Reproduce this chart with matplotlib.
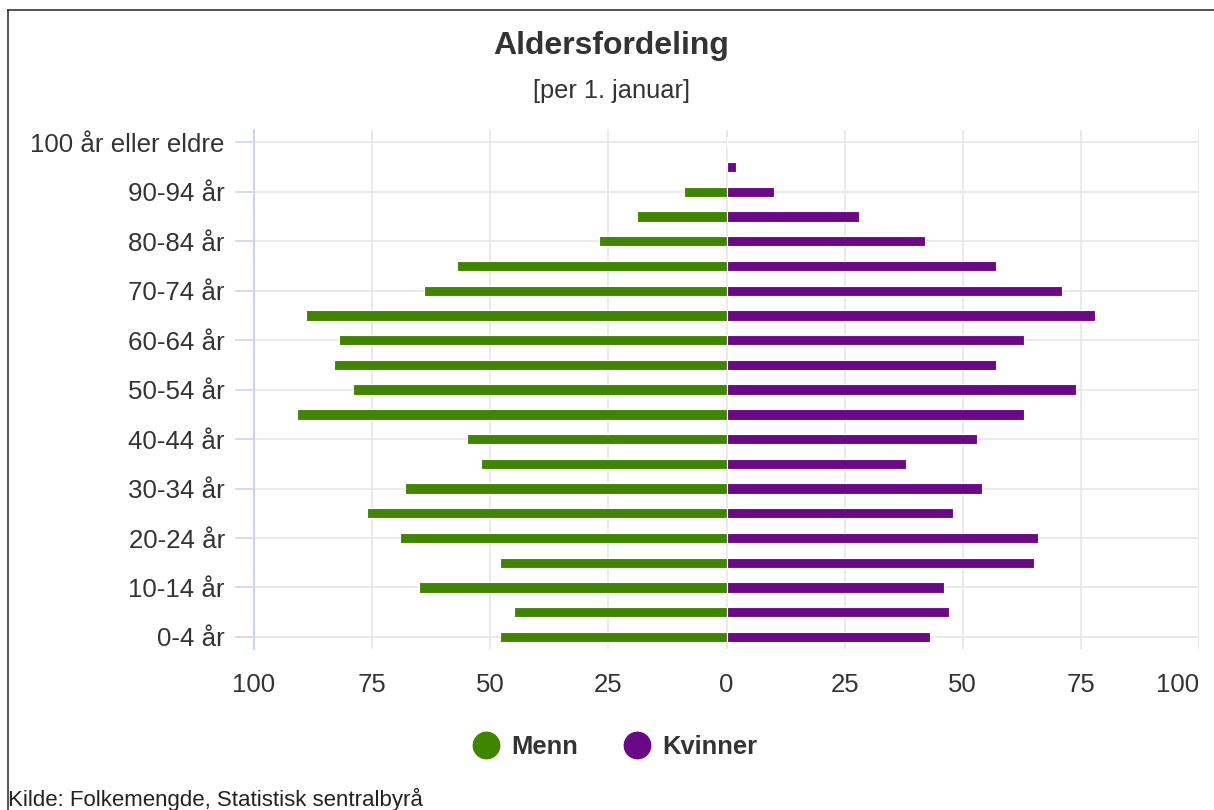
import matplotlib
matplotlib.use("Agg")
import matplotlib.pyplot as plt
from matplotlib.lines import Line2D
import numpy as np

plt.rcParams['font.family'] = ['Liberation Sans', 'DejaVu Sans']

categories = ["0-4 år", "5-9 år", "10-14 år", "15-19 år", "20-24 år", "25-29 år",
              "30-34 år", "35-39 år", "40-44 år", "45-49 år", "50-54 år", "55-59 år",
              "60-64 år", "65-69 år", "70-74 år", "75-79 år", "80-84 år", "85-89 år",
              "90-94 år", "95-99 år", "100 år eller eldre"]
menn = [48, 45, 65, 48, 69, 76, 68, 52, 55, 91, 79, 83, 82, 89, 64, 57, 27, 19, 9, 0, 0]
kvinner = [43, 47, 46, 65, 66, 48, 54, 38, 53, 63, 74, 57, 63, 78, 71, 57, 42, 28, 10, 2, 0]
series_names = ["Menn", "Kvinner"]
series_colors = ["#408500", "#6a0888"]
xticks = [-100, -75, -50, -25, 0, 25, 50, 75, 100]

W, H = 1214, 810
fig = plt.figure(figsize=(W / 100, H / 100), dpi=100)
fig.patch.set_facecolor("white")

ax = fig.add_axes([254 / W, 1 - 649.3 / H, (1199 - 254) / W, (649.3 - 130) / H])
y = np.arange(len(categories))
ax.barh(y, -np.array(menn), height=0.42, color=series_colors[0], edgecolor="white",
        linewidth=0.8, zorder=3)
ax.barh(y, np.array(kvinner), height=0.42, color=series_colors[1], edgecolor="white",
        linewidth=0.8, zorder=3)

ax.set_xlim(-100, 100)
ax.set_ylim(-0.5, len(categories) - 0.5)

ax.set_xticks(xticks)
ax.set_xticklabels([str(abs(v)) for v in xticks])
ax.xaxis.grid(True, color="#e6e6e6", linewidth=1.2, zorder=0)
ax.tick_params(axis="x", length=0, pad=17, labelsize=18.5, labelcolor="#333333")
# keep the last label inside the chart like the reference
ax.get_xticklabels()[-1].set_horizontalalignment("right")

ytick_pos = y[::2]
ax.set_yticks(ytick_pos)
ax.set_yticklabels([categories[i] for i in ytick_pos])
ax.yaxis.grid(True, color="#e6e6e6", linewidth=1.2, zorder=0)
ax.tick_params(axis="y", length=14, width=1.2, color="#ccd6eb", pad=7,
               labelsize=18.6, labelcolor="#333333")
ax.set_axisbelow(True)

for s in ["top", "right", "bottom"]:
    ax.spines[s].set_visible(False)
ax.spines["left"].set_color("#ccd6eb")
ax.spines["left"].set_linewidth(1.5)

fig.text(611 / W, 1 - 46 / H, "Aldersfordeling", ha="center", va="center",
         fontsize=23, fontweight="bold", color="#333333")
fig.text(611 / W, 1 - 91 / H, "[per 1. januar]", ha="center", va="center",
         fontsize=18.3, color="#333333")

handles = [Line2D([], [], linestyle="none", marker="o", markersize=19,
                  markerfacecolor=c, markeredgecolor=c) for c in series_colors]
leg = fig.legend(handles, series_names, loc="center", bbox_to_anchor=(609 / W, 1 - 747 / H),
                 ncol=2, frameon=False, handletextpad=0.0, columnspacing=1.3,
                 prop={"weight": "bold", "size": 18.4})
for t in leg.get_texts():
    t.set_color("#333333")

fig.text(8 / W, 1 - 799 / H, "Kilde: Folkemengde, Statistisk sentralbyrå", ha="left",
         va="center", fontsize=16, color="#222222")

fig.add_artist(Line2D([7.5 / W, 7.5 / W], [0, 1 - 9.5 / H], transform=fig.transFigure,
                      color="#333333", linewidth=1.2))
fig.add_artist(Line2D([7.5 / W, 1], [1 - 9.5 / H, 1 - 9.5 / H], transform=fig.transFigure,
                      color="#333333", linewidth=1.2))

fig.savefig("out.png", dpi=100, facecolor="white")
